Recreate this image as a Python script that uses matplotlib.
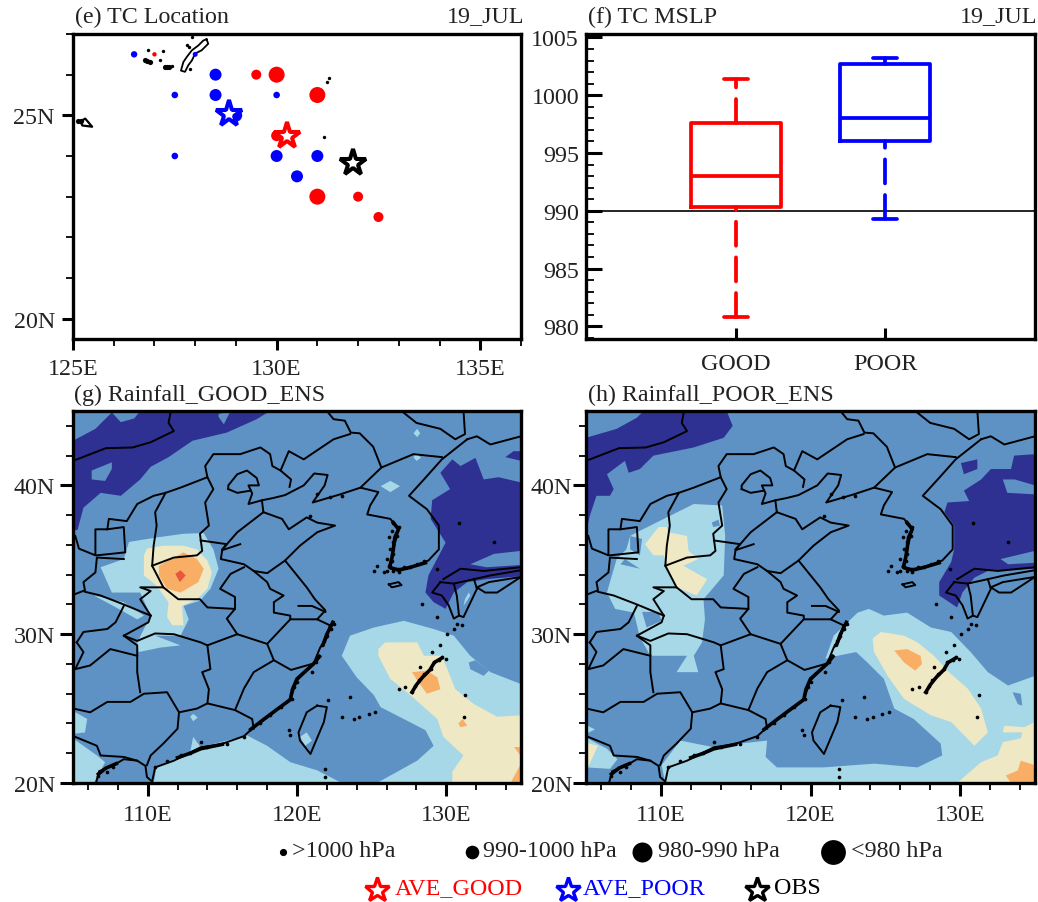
import matplotlib
matplotlib.use('Agg')
import matplotlib.pyplot as plt
from matplotlib.ticker import MultipleLocator, FixedLocator, FuncFormatter, NullFormatter

plt.rcParams['font.family'] = ['Liberation Serif', 'DejaVu Serif']
plt.rcParams['text.color'] = '#222222'
plt.rcParams['xtick.labelcolor'] = '#222222'
plt.rcParams['ytick.labelcolor'] = '#222222'

W, H = 1038, 903
FS = 17.3
DARK = '#2E3192'
MID = '#5E92C4'
LIGHT = '#A7D8E8'
CREAM = '#EFE8C5'
ORANGE = '#F9AE66'
REDF = '#E8573F'

# (e) TC positions, lon / lat / marker radius in px
good_lon = [127, 129.5, 130, 131, 130, 131, 132, 132.5]
good_lat = [26.5, 26, 26, 25.5, 24.5, 23, 23, 22.5]
good_rad = [2.2, 5, 8, 8, 5.5, 8, 5, 5]
poor_lon = [126.5, 127.5, 127.5, 128.5, 128.5, 129, 130, 130, 131, 130.5, 128]
poor_lat = [26.5, 25.5, 24, 26, 25.5, 25, 25.5, 24, 24, 23.5, 26.5]
poor_rad = [3.2, 3.3, 3.3, 6, 6, 6.3, 3.3, 6, 6, 6, 2.5]
star_names = ['AVE_GOOD', 'AVE_POOR', 'OBS']
star_lon = [130.25, 128.82, 131.88]
star_lat = [24.48, 25.03, 23.84]
star_col = ['#FF0000', '#0000FF', '#000000']

# (f) box statistics
box_names = ['GOOD', 'POOR']
box_low = [980.8, 989.3]
box_q1 = [990.3, 996.0]
box_med = [993.0, 998.0]
box_q3 = [997.6, 1002.7]
box_high = [1001.4, 1003.2]
box_col = ['#FF0000', '#0000FF']

# coast and boundaries, lon/lat
mongolia = [(105, 41.65), (107.2, 42.5), (109, 42.55), (110.2, 42.9), (111.75, 43.65), (111.4, 44.2), (111.55, 45)]
ne_a = [(122, 45), (122.45, 44.45), (123.2, 44.35), (123.6, 43.55), (124.2, 43.5), (125.1, 42.6), (125.65, 41.2), (124.25, 39.85)]
ne_b = [(125.65, 41.2), (127.8, 42.1), (129.7, 41.9)]
ne_c = [(127, 45), (128, 44.2), (129.6, 43.8), (130.6, 43.1), (131.25, 43.45), (131.15, 45)]
russia = [(131.4, 43.1), (132.05, 43.3), (132.95, 42.75), (135, 43.3)]
imong = [(105.15, 36.6), (105.4, 35.75), (106.5, 35.3), (106.5, 37.05), (107.3, 37.05), (107.4, 37.75), (108.6, 37.6), (109.3, 38.75),
         (110.4, 39.3), (111.2, 39.5), (112.2, 39.85), (114, 40.55), (113.85, 41.3), (114.4, 42.1), (116.2, 42.1), (117.55, 42.55),
         (118.2, 42.1), (118.35, 41.3), (118.9, 41), (119.45, 42.3), (120.45, 41.75), (122.45, 43.1), (123.55, 43.45)]
ningxia = [(107.3, 37.05), (108.4, 37.2), (108.5, 35.5), (106.6, 35.3)]
gansu = [(108.4, 35.05), (106.6, 35.15), (106.5, 34.15), (105.7, 33.5), (105.8, 32.95), (105.15, 32.7)]
shaanxi_s = [(105.8, 32.85), (106.85, 32.6), (108.4, 32), (110.2, 31.25)]
shaanxi_e = [(110.2, 31.25), (109.5, 32.35), (110.2, 32.9), (109.5, 33.15), (111.05, 33.15), (112.05, 32.35), (113.5, 32.35), (114, 31.8),
             (115.85, 31.7), (115.3, 31.05), (116, 30)]
shanxi_w = [(111.2, 39.5), (110.5, 38.2), (110.6, 37.3), (110.4, 35.95), (110.3, 34.6), (111.05, 33.15)]
shanxi_e = [(114, 40.55), (114.4, 39.75), (113.85, 38.85), (114.1, 37.3), (113.5, 36.75), (113.65, 35.6), (113.3, 35.3), (111.75, 35.15), (110.3, 34.6)]
henan_n = [(113.55, 36.3), (115.3, 36.05), (115, 35.7), (114.9, 35.05), (116.45, 34.7), (117.1, 34.25), (118, 34.1), (119.2, 34.95)]
henan_e = [(116.45, 34.5), (115.55, 34.05), (114.85, 33.05), (115.85, 32.5), (115.85, 31.7)]
anhui_n = [(117.1, 34.25), (118, 33.5), (118.2, 33.05), (119.1, 32.6), (118.45, 32.15), (118.45, 31.45), (119.55, 31.25), (119.55, 31), (121.35, 31)]
yangtze = [(120.1, 31.9), (121, 31.9), (121.9, 31.5)]
hubei_s = [(108.4, 29.9), (109.3, 29.55), (110.5, 30.05), (111.75, 30), (113.55, 29.45), (114, 29.25), (116, 30), (118, 29.35), (119.55, 31)]
chongqing = [(110.2, 31.25), (110.05, 30.8), (108.4, 29.9), (109.3, 29.25), (109.3, 27.45), (109.5, 26.1)]
hunan_e = [(114, 29.25), (114.2, 27.65), (113.65, 27.45), (114.1, 26.3), (114, 25.35), (115.85, 24.9), (117, 24.3), (117.1, 23.65)]
fujian = [(115.85, 24.9), (116.45, 26.35), (117.1, 27.45), (118.45, 28.25), (118, 29.35)]
zhejiang = [(118.45, 28.25), (119.6, 27.6), (121, 28)]
guang_n = [(114, 25.35), (113.3, 25), (112.1, 24.75), (111.3, 26.1), (109.75, 26), (108.85, 25.45), (107.3, 25.45), (106.15, 24.75), (105.05, 25)]
guang_w = [(112.1, 24.75), (112, 23.65), (111.05, 22.65), (110.2, 21.85), (109.95, 21.2)]
vietnam = [(105.15, 23.1), (106.6, 22.5), (106.85, 21.85), (108.4, 21.75), (109.3, 21.5)]
guizhou_a = [(105.25, 29.45), (105.7, 30.15), (107.3, 30.35), (107.85, 30.8), (108.4, 31.9)]
guizhou_b = [(105.25, 29.45), (105.7, 28.8), (105.15, 27.65), (106.15, 27.9), (107.5, 29), (109.3, 28.55)]
beijing = [(115.4, 39.75), (115.4, 40), (116, 40.75), (116.65, 41), (117.3, 40.5), (117.45, 40), (116.75, 40), (117, 39.45), (116.75, 38.75), (117.65, 39)]
beijing_b = [(115.4, 39.75), (116, 39.5), (116.9, 39.65)]
hebei_e = [(118.9, 41), (119.6, 40.4), (119.5, 39.9)]
hebei_s = [(115, 35.7), (116, 36.85), (117.75, 38.2)]
bohai_isl = [(115, 35.65), (116.2, 36.05)]
coast_cn = [(117.75, 38.2), (119, 37.75), (119.45, 37.05), (120.65, 37.85), (121.35, 37.5), (122.55, 37.3), (121.35, 36.85), (120.2, 35.95),
            (119.2, 34.95), (120.65, 33.15), (121.2, 32.35), (121.9, 31.6), (121.35, 31), (122.2, 30.6), (122, 29.75), (121.55, 29.1), (121.1, 28),
            (120, 26.9), (119.55, 25.65), (118.2, 24.55), (117.1, 23.75), (116.45, 23.15), (114.9, 22.6), (113.55, 22.4), (112.85, 22.05),
            (111.75, 21.5), (110.5, 21.05), (110.3, 20.1), (109.95, 20.4), (109.85, 21.15), (109.3, 21.5), (108.4, 21.6), (107.65, 21.15),
            (106.75, 20.8), (106.55, 20.05)]
coast_ne = [(117.75, 38.2), (117.65, 39), (118.4, 39.15), (119.2, 39.35), (120.45, 40), (121.15, 40.8), (122.05, 40.7), (121.85, 40), (121.05, 38.85),
            (122.9, 39.4), (124.25, 39.85), (125.45, 39.55), (124.9, 38.65), (124.7, 38.05), (126.25, 37.75), (126.8, 37.05), (126.45, 35.7),
            (126.25, 34.4), (127.35, 34.4), (128.8, 34.95), (129.5, 35.7), (129.5, 37.3), (128.7, 38.4), (127.5, 39.3), (128.5, 40.4), (129.7, 41.75),
            (131.4, 43.1)]
taiwan = [(121.35, 25.2), (122, 25.1), (121.8, 24.1), (120.9, 21.95), (120.2, 22.85), (120.1, 23.4), (120.65, 24.75), (121.35, 25.2)]
jeju = [(126.15, 33.35), (126.8, 33.5), (127, 33.3), (126.35, 33.15), (126.15, 33.35)]
kyushu = [(129.6, 33.5), (130.5, 33.4), (130.7, 32.6), (130.85, 31.25), (130.5, 31.05), (130.15, 31.95), (129.7, 32.6), (129.05, 32.8), (129.6, 33.5)]
honshu_n = [(129.8, 33.7), (130.95, 34.4), (132.5, 34.25), (135, 34.5)]
honshu_s = [(130.5, 33.4), (131.85, 33.7), (132.95, 33.95), (135, 34.3)]
kyushu_e = [(131.85, 33.7), (132.05, 33.05), (131.15, 31.15), (130.85, 31.25)]
shikoku = [(132.05, 33.15), (132.85, 33.5), (135, 33.85), (133.4, 32.8), (132.6, 32.8), (132.05, 33.15)]
map_lines = [mongolia, ne_a, ne_b, ne_c, russia, imong, ningxia, gansu, shaanxi_s, shaanxi_e, shanxi_w, shanxi_e, henan_n, henan_e, anhui_n,
             yangtze, hubei_s, chongqing, hunan_e, fujian, zhejiang, guang_n, guang_w, vietnam, guizhou_a, guizhou_b, beijing, beijing_b,
             hebei_e, hebei_s, bohai_isl, coast_cn, coast_ne, taiwan, jeju, kyushu, honshu_n, honshu_s, kyushu_e, shikoku]

# stretches where small islands clump into a thick black coast
clump_korea = [(126.45, 37.5), (126.8, 37.05), (126.55, 36.5), (126.45, 35.7), (126.35, 35.1), (126.2, 34.5), (126.8, 34.3), (127.6, 34.5), (128.6, 34.8)]
clump_zj = [(122.4, 30.8), (122, 30), (121.75, 29.3)]
clump_fj = [(121.5, 28.5), (121.1, 28), (120, 27), (119.7, 26.3), (119.55, 25.6), (118.6, 24.9), (117.8, 24.3), (116.9, 23.6)]
clump_gd = [(115, 22.6), (113.55, 22.3), (112.85, 22), (112, 21.7)]
clump_vn = [(106.7, 20.6), (107.2, 21), (107.9, 21.3)]
clump_ryu = [(129.7, 28.4), (129.2, 28.1), (128.9, 27.6), (128.4, 27.1), (128, 26.6), (127.7, 26.1)]
map_clumps = [clump_korea, clump_zj, clump_fj, clump_gd, clump_vn, clump_ryu]

isl_lon = [126.45, 126.8, 126.35, 126.7, 126.15, 126.45, 126.25, 126.45, 126, 126.35, 126.15, 126.45, 126, 126.8, 127.15, 127.6, 128.05, 128.5,
           125.35, 125.15, 125.8, 122.45, 122.25, 122, 121.8, 121.65, 121.45, 121.25, 121, 120, 119.8, 119.65, 118.9, 118.2, 117.55,
           116.45, 115.3, 114, 113.55, 112.85, 112.2, 111.3, 110.5, 107.7, 107.3, 106.7,
           129.7, 129.5, 129.15, 128.95, 128.5, 128.15, 127.9, 127.7, 126.8, 127.25, 128.25, 129.95, 129.05, 129.6, 130.05, 131.05, 130.5, 129.4, 130.7,
           131.25, 131.15, 123, 123.8, 124.15, 124.8, 125.25, 123.55, 122.1, 121.9, 121.9, 119.45, 119.55,
           121.35, 122.2, 123, 120.9, 130.85, 133.2, 129.35, 128.4]
isl_lat = [37.5, 37.2, 36.95, 36.6, 36.5, 36.2, 35.7, 35.4, 35.05, 34.95, 34.6, 34.25, 34.25, 34.15, 34.5, 34.5, 34.7, 34.95,
           34.6, 34.25, 34.15, 30.7, 30.35, 29.9, 29.55, 29.25, 28.55, 28.1, 27.45, 26.8, 26.45, 25.65, 25.1, 24.55, 24,
           23.1, 22.65, 22.4, 22.75, 22, 21.85, 21.5, 21.05, 21.05, 20.75, 20.5,
           28.45, 28.25, 28.1, 27.65, 27.35, 26.9, 26.55, 26.1, 26.35, 26.45, 27.8, 28.35, 28.8, 29.25, 30, 30.6, 30.35, 31.15, 30.7,
           25.9, 24.45, 24.45, 24.3, 24.45, 24.65, 24.75, 25.8, 25.55, 20.95, 20.4, 23.55, 23.2,
           39.4, 39.2, 39.3, 37.95, 37.45, 36.2, 34.4, 32.05]

# islands seen in (e)
okinawa = [(128.28, 26.87), (128.32, 26.76), (128.16, 26.6), (128, 26.52), (127.92, 26.35), (127.83, 26.23), (127.75, 26.07), (127.65, 26.1), (127.71, 26.31),
           (127.79, 26.43), (127.92, 26.6), (128.08, 26.72), (128.2, 26.84), (128.28, 26.87)]
miyako = [(125.18, 24.85), (125.3, 24.92), (125.47, 24.72), (125.23, 24.75), (125.18, 24.85)]
e_clump_lon = [126.76, 126.82, 126.88, 127.26, 127.3, 127.36, 125.13, 125.2]
e_clump_lat = [26.37, 26.34, 26.32, 26.2, 26.19, 26.2, 24.87, 24.85]
e_isl_lon = [127.43, 126.83, 127.22, 127.14, 127.93, 127.79, 127.85, 127.87, 131.23, 131.29, 131.17]
e_isl_lat = [26.21, 26.6, 26.58, 26.37, 26.93, 26.72, 26.69, 26.13, 25.83, 25.93, 24.47]

# (g) rainfall regions, lon/lat outlines
g_dark = [[(105, 43), (106.5, 43.8), (107.6, 44.9), (108.2, 44.25), (109.1, 44.5), (109.5, 45), (118.2, 45), (117.3, 44.45), (115.3, 43.55), (113, 43),
           (111.4, 41.9), (110.2, 41.25), (109.5, 40.4), (108.2, 39.3), (106.85, 39.5), (105.7, 38.5), (105.3, 37), (105, 37)],
          [(130.4, 41.75), (130.95, 41.3), (131.95, 41.85), (132.5, 40.4), (133.5, 40.55), (135, 40.2), (135, 33.9), (132.7, 33.7), (131.4, 33.5), (130.5, 32.8),
           (129.95, 31.7), (129.15, 32.15), (128.6, 32.8), (128.8, 33.95), (129.95, 36.15), (128.95, 37.75), (129.05, 39), (130.25, 39.75), (129.6, 40.85)],
          [(133.95, 41.9), (134.5, 42.3), (135, 42.3), (135, 41.65)]]
g_mid_a = [[(106.25, 40.4), (106.25, 41), (107.6, 41.55), (107.6, 41.1), (107.15, 40.3)],
           [(114.75, 44.8), (115.55, 45), (115.1, 44.1), (114.75, 44.6)],
           [(131.6, 34.7), (133.2, 35.4), (135, 35.6), (135, 34.65), (132.7, 34.5)]]
g_light = [[(108.75, 36.2), (110.6, 36.5), (112.4, 36.75), (113.75, 36.8), (114.4, 35.7), (114.75, 34.4), (114.2, 33.05), (113.5, 32.25), (112.4, 31.9), (112.75, 31),
            (112.2, 29.9), (110.5, 29.9), (112.2, 29.25), (110.85, 29.1), (109.4, 28.8), (109.3, 29.45), (110.2, 31.25), (109.5, 32.8), (107.6, 32.8), (106.85, 34.5), (108.4, 35.05)],
           [(106.4, 32.6), (108.4, 32.15), (109.75, 31.25), (109.3, 31), (107.7, 31.9)],
           [(123, 28.55), (123.55, 29.9), (125.15, 30.45), (127.15, 30.9), (129.15, 30.35), (130.5, 29.9), (131.6, 28.55), (132.95, 27.45), (135, 26.65), (135, 20), (125.35, 20),
            (128.05, 21.5), (129.15, 22.5), (128.6, 23.55), (127.15, 24.3), (125.6, 25.1), (125.15, 25.9), (124, 27.1)],
           [(110.4, 20), (110.6, 21.05), (112.85, 22.1), (113.05, 23.1), (113.55, 22.4), (116.65, 23.2), (118, 22.5), (119.55, 21.4), (121.35, 20.85), (123, 20)],
           [(105, 24.85), (105.95, 24.3), (105.8, 23.4), (105, 23.3)],
           [(105, 23), (106.6, 21.85), (107.15, 21.4), (106.4, 20), (105, 20)],
           [(125.6, 39.95), (126.25, 40.3), (126.9, 39.95), (126.25, 39.55)],
           [(127.8, 43.5), (128.05, 43.8), (128.25, 43.5), (128.05, 43.25)],
           [(127.8, 41.9), (128, 42.15), (128.3, 41.85), (128, 41.65)],
           [(120.2, 23.1), (120.65, 23.4), (121, 22.85), (120.55, 22.5)],
           [(112.85, 24.45), (113.05, 24.65), (113.35, 24.4), (113.05, 24.15)],
           [(131.25, 32.35), (131.5, 32.8), (131.6, 32.6), (131.15, 31.9)]]
g_mid_b = [[(131.5, 28.1), (131.95, 28.25), (132.85, 27.55), (132.5, 27.2), (131.6, 27.65)]]
g_cream = [[(109.75, 35.3), (109.95, 35.75), (111.05, 35.95), (112.4, 35.95), (113.3, 35.7), (114, 34.95), (114.3, 34.15), (114, 33.05), (113.3, 32.35), (112.3, 31.9),
            (112.4, 30.6), (111.65, 30.6), (111.3, 31.15), (111.4, 32.15), (110.6, 33.25), (109.75, 33.95)],
           [(125.45, 29), (125.9, 29.45), (128.05, 29.45), (128.5, 28.55), (129.7, 28.55), (130.15, 27.45), (130.6, 26.3), (131.85, 25.3), (133.4, 24.45), (135, 24.55), (135, 20),
            (130.4, 20), (130.4, 20.75), (131.15, 21.85), (129.8, 23.1), (129.4, 24.3), (127.6, 25.9), (126.25, 27), (125.45, 28.55)]]
g_orange = [[(110.75, 34.6), (112.4, 35.5), (113.3, 35.05), (113.75, 34.4), (113.4, 33.5), (112.2, 32.8), (111.3, 33.05), (110.75, 33.95)],
            [(127.7, 27.45), (128.7, 27.55), (129.4, 27.1), (129.6, 26.3), (128.7, 26), (128.05, 26.9)],
            [(130.8, 24), (131.1, 24.3), (131.4, 23.85), (130.95, 23.75)],
            [(134.3, 20), (135, 21.3), (135, 20)],
            [(134.5, 22.4), (134.9, 22.4), (134.9, 21.85)]]
g_red = [[(111.85, 34.05), (112.2, 34.3), (112.55, 33.95), (112.15, 33.5)]]

# (h) rainfall regions
h_dark = [[(105, 43.2), (107.05, 43.8), (108.4, 44.55), (108.85, 45), (114.4, 45), (114.8, 44), (114.2, 43.2), (112.2, 42.55), (109.5, 42), (108.6, 41.1), (107.85, 40.85),
           (107.6, 41.65), (106.4, 40.75), (106.85, 39.75), (106.6, 39.3), (105.7, 39.3), (105.25, 37.95), (105, 36.85)],
          [(135, 42.1), (133.6, 42), (133.4, 41.1), (132.05, 41.1), (131.4, 40.4), (130.25, 39.65), (130.6, 38.95), (129.15, 38.85), (128.95, 38.2), (129.6, 37.3), (129.6, 35.7),
           (129.4, 34.85), (128.6, 33.5), (128.6, 32.6), (129.8, 31.8), (130.15, 32.8), (130.95, 33.8), (131.85, 34.25), (135, 34.4)],
          [(130.05, 41.5), (131.15, 41.75), (131.15, 41.1), (130.25, 40.75)]]
h_mid_a = [[(132.85, 40.4), (133.65, 40.4), (135, 40), (135, 39.4), (133.15, 39.5)],
           [(132.7, 35.05), (135, 35.6), (135, 34.8), (133.2, 34.7)]]
h_light = [[(108.4, 36.85), (110.4, 37.85), (112.2, 38.75), (114.1, 38.65), (114.3, 36.6), (114.2, 33.95), (112.85, 32.35), (112.95, 31), (112.75, 29.45), (112.2, 28.55), (112.5, 27.45),
            (111.05, 27.45), (111.75, 28.55), (109.3, 28.55), (108.6, 29.8), (108.2, 31.45), (106.95, 31.7), (106.4, 32.8), (107.05, 35.05), (107.7, 35.7), (107.95, 36.6)],
           [(110.3, 20), (110.05, 21.2), (111.3, 22.85), (113.55, 22.4), (115.3, 22.65), (117.1, 22.85), (117, 21.75), (117.75, 21.05), (120.9, 21.05), (124.25, 21.3), (127.15, 21.05),
            (128.8, 21.85), (128.7, 22.65), (126.9, 24.3), (125.6, 25), (124.9, 27), (123.8, 28.1), (123.05, 28.8), (121.8, 28.55), (121, 28.35), (121.55, 29.9), (123.15, 31.45),
            (123.9, 31.7), (124.9, 31.25), (126.45, 31.45), (128.05, 30.45), (129.4, 30.15), (130.7, 28.8), (131.85, 27.45), (133.2, 26.55), (135, 27.2), (135, 20)],
           [(105, 23.9), (105.6, 23.6), (105, 23.3)],
           [(105, 23.05), (106.4, 22.3), (107.1, 21.6), (106.6, 20.95), (105, 21.05)]]
h_mid_b = [[(107.95, 36.6), (108.75, 36.4), (108.6, 35.3), (107.95, 35.7)],
           [(107.3, 34.7), (108.6, 34.4), (107.6, 35.05)],
           [(108.75, 31.5), (109.85, 31.5), (110.05, 30.9), (109.05, 30.45)],
           [(113.4, 37.5), (113.85, 37.7), (113.95, 37.3), (113.5, 37.2)],
           [(133.5, 26.1), (134.05, 26), (134.15, 25.2), (133.85, 25.3)]]
h_cream = [[(108.95, 36.05), (109.85, 37.2), (110.4, 37.2), (110.5, 36.85), (111.75, 36.6), (111.85, 35.6), (112.5, 35.05), (111.5, 34.6), (113.1, 33.7), (112.4, 32.6), (111.05, 33.15),
            (110.4, 34.6), (110.2, 35.3), (109.5, 35.3)],
           [(124.15, 29.7), (124.7, 30.15), (126.25, 29.9), (127.15, 29.45), (128.25, 28.55), (129.25, 27.45), (130.5, 26.35), (131.4, 25), (131.85, 23.4), (130.95, 22.5), (129.4, 24.1),
            (128.05, 24.55), (126.25, 25.65), (125.15, 27.2), (124.25, 28.8)],
           [(129.8, 20), (131.4, 21.4), (132.5, 21.85), (132.85, 22.75), (134.05, 23), (134.15, 23.4), (132.85, 23.4), (132.95, 23.85), (134.3, 23.75), (135, 24.1), (135, 20)],
           [(105, 22.7), (105.8, 22.5), (105.2, 21.2), (105, 21.1)]]
h_orange = [[(125.6, 28.9), (126.45, 29), (127.35, 28.55), (127.45, 28), (127, 27.55), (126.25, 28.1)],
            [(133.05, 20.5), (133.85, 20.85), (134.05, 21.5), (135, 21.2), (135, 20), (133.4, 20)]]
h_red = []

# bottom legend
size_names = ['>1000 hPa', '990-1000 hPa', '980-990 hPa', '<980 hPa']


def box_px(l, t, r, b):
    return [l / W, 1 - b / H, (r - l) / W, (b - t) / H]


def r2pt(r):
    return 2 * r * 72 / 100


def style_spines(ax, lw):
    for s in ax.spines.values():
        s.set_linewidth(lw)
        s.set_zorder(10)


def draw_map_lines(ax):
    for line in map_lines:
        xs, ys = zip(*line)
        ax.plot(xs, ys, color='k', lw=1.4, solid_joinstyle='round', zorder=5)
    for line in map_clumps:
        xs, ys = zip(*line)
        ax.plot(xs, ys, color='k', lw=2.6, solid_joinstyle='round', zorder=5)
    ax.scatter(isl_lon, isl_lat, s=7, color='k', linewidths=0, zorder=5)


def draw_rain(ax, layers):
    ax.set_facecolor(MID)
    for polys, col in layers:
        for p in polys:
            xs, ys = zip(*p)
            ax.fill(xs, ys, color=col, lw=0, zorder=2)


def map_axis(ax, ypad):
    ax.set_xlim(105, 135)
    ax.set_ylim(20, 45)
    ax.xaxis.set_major_locator(FixedLocator([110, 120, 130]))
    ax.xaxis.set_minor_locator(MultipleLocator(2))
    ax.yaxis.set_major_locator(FixedLocator([20, 30, 40]))
    ax.yaxis.set_minor_locator(MultipleLocator(2))
    ax.xaxis.set_major_formatter(FuncFormatter(lambda v, p: '%dE' % v))
    ax.yaxis.set_major_formatter(FuncFormatter(lambda v, p: '%dN' % v))
    ax.xaxis.set_minor_formatter(NullFormatter())
    ax.tick_params(which='major', length=9.4, width=2.2, labelsize=FS)
    ax.tick_params(axis='x', which='major', pad=6)
    ax.tick_params(axis='y', which='major', pad=ypad)
    ax.tick_params(which='minor', length=5, width=1.3)
    style_spines(ax, 2.4)


fig = plt.figure(figsize=(W / 100, H / 100), dpi=100)

# (e)
ax_e = fig.add_axes(box_px(73, 35, 521, 340))
ax_e.set_xlim(125, 136)
ax_e.set_ylim(19.5, 27)
ax_e.xaxis.set_major_locator(FixedLocator([125, 130, 135]))
ax_e.xaxis.set_minor_locator(MultipleLocator(1))
ax_e.yaxis.set_major_locator(FixedLocator([20, 25]))
ax_e.yaxis.set_minor_locator(MultipleLocator(1))
ax_e.xaxis.set_major_formatter(FuncFormatter(lambda v, p: '%dE' % v))
ax_e.yaxis.set_major_formatter(FuncFormatter(lambda v, p: '%dN' % v))
ax_e.tick_params(which='major', length=8, width=2.2, labelsize=FS)
ax_e.tick_params(axis='x', which='major', pad=6)
ax_e.tick_params(axis='y', which='major', pad=5)
ax_e.tick_params(which='minor', length=5, width=1.3)
style_spines(ax_e, 2.4)
for isl, lw in [(okinawa, 1.3), (miyako, 1.6)]:
    xs, ys = zip(*isl)
    ax_e.plot(xs, ys, color='k', lw=lw, zorder=2)
ax_e.scatter(e_clump_lon, e_clump_lat, s=14, color='k', linewidths=0, zorder=2)
ax_e.scatter(e_isl_lon, e_isl_lat, s=6, color='k', linewidths=0, zorder=2)
ax_e.scatter(poor_lon, poor_lat, s=[r2pt(r) ** 2 for r in poor_rad], color='#0000FF', linewidths=0, zorder=3)
ax_e.scatter(good_lon, good_lat, s=[r2pt(r) ** 2 for r in good_rad], color='#FF0000', linewidths=0, zorder=3)
for lon, lat, col in zip(star_lon, star_lat, star_col):
    ax_e.plot([lon], [lat], marker='*', ms=20, mfc='white', mec=col, mew=2.9, ls='none', zorder=4)

# (f)
ax_f = fig.add_axes(box_px(586, 35, 1035, 340))
ax_f.set_xlim(0, 3)
ax_f.set_ylim(978.9, 1005.3)
for i, col in enumerate(box_col):
    st = {'med': box_med[i], 'q1': box_q1[i], 'q3': box_q3[i], 'whislo': box_low[i], 'whishi': box_high[i], 'fliers': []}
    res = ax_f.bxp([st], positions=[i + 1], widths=[0.6], manage_ticks=False, zorder=3,
                   boxprops=dict(color=col, lw=2.7),
                   medianprops=dict(color=col, lw=2.7),
                   whiskerprops=dict(color=col, lw=2.7, dashes=(6.4, 3.1), dash_capstyle='round'),
                   capprops=dict(color=col, lw=2.7, solid_capstyle='round'), capwidths=[0.16], showfliers=False)
    # dashes in the reference run upward from the lower cap
    low = res['whiskers'][0]
    low.set_ydata(list(low.get_ydata())[::-1])
ax_f.axhline(990, color='k', lw=1.2, zorder=2)
ax_f.set_xticks([1, 2])
ax_f.set_xticklabels(box_names)
ax_f.yaxis.set_major_locator(MultipleLocator(5))
ax_f.yaxis.set_minor_locator(MultipleLocator(1))
ax_f.tick_params(axis='y', which='major', direction='in', length=11.5, width=2.2, labelsize=FS, pad=5)
ax_f.tick_params(axis='y', which='minor', direction='in', length=6, width=1.3)
ax_f.tick_params(axis='x', which='major', direction='in', length=8, width=2.2, labelsize=FS, pad=10)
style_spines(ax_f, 2.4)

# (g)
ax_g = fig.add_axes(box_px(73, 412, 521, 784))
map_axis(ax_g, 3.5)
draw_rain(ax_g, [(g_dark, DARK), (g_mid_a, MID), (g_light, LIGHT), (g_mid_b, MID), (g_cream, CREAM), (g_orange, ORANGE), (g_red, REDF)])
draw_map_lines(ax_g)

# (h)
ax_h = fig.add_axes(box_px(586, 412, 1035, 784))
map_axis(ax_h, 0.5)
draw_rain(ax_h, [(h_dark, DARK), (h_mid_a, MID), (h_light, LIGHT), (h_mid_b, MID), (h_cream, CREAM), (h_orange, ORANGE), (h_red, REDF)])
draw_map_lines(ax_h)


def ftext(x, y, s, **kw):
    kw.setdefault('fontsize', FS)
    kw.setdefault('va', 'center')
    fig.text(x / W, 1 - y / H, s, **kw)


ftext(75, 17, '(e) TC Location')
ftext(524, 17, '19_JUL', ha='right')
ftext(588, 17, '(f) TC MSLP')
ftext(1037, 17, '19_JUL', ha='right')
ftext(74, 395, '(g) Rainfall_GOOD_ENS')
ftext(588, 395, '(h) Rainfall_POOR_ENS')

# legend keys drawn on a full-figure overlay
key = fig.add_axes([0, 0, 1, 1], facecolor='none')
key.set_xlim(0, W)
key.set_ylim(H, 0)
key.axis('off')
dot_x = [283, 472, 642, 833]
dot_r = [3.6, 6.8, 10, 12.4]
text_x = [292, 483, 658, 851]
for x, r, tx, name in zip(dot_x, dot_r, text_x, size_names):
    key.plot([x], [853], marker='o', ms=r2pt(r), color='k', mew=0)
    ftext(tx, 852, name)
star_kx = [377, 568, 757]
star_tx = [395, 583, 774]
for x, tx, name, col in zip(star_kx, star_tx, star_names, star_col):
    key.plot([x], [891], marker='*', ms=18.5, mfc='white', mec=col, mew=2.4)
    ftext(tx, 889, name, color=col)

fig.savefig('out.png', dpi=100)
